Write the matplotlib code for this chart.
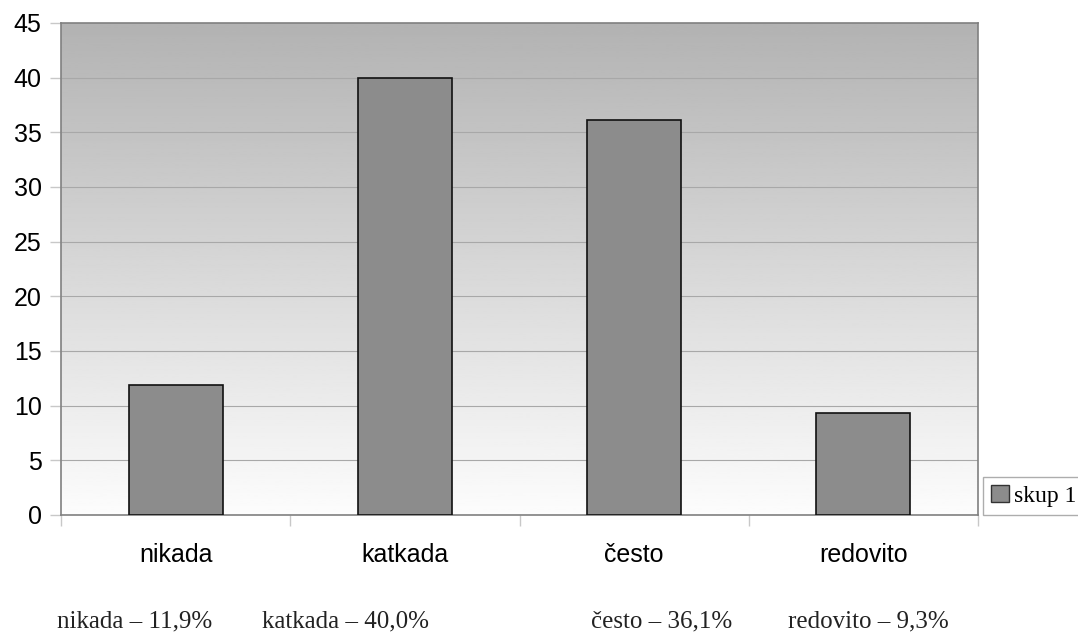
import matplotlib
matplotlib.use("Agg")
import matplotlib.pyplot as plt
import numpy as np
from matplotlib.patches import Patch

categories = ["nikada", "katkada", "često", "redovito"]
values = [11.9, 40.0, 36.1, 9.3]
notes = ["nikada – 11,9%", "katkada – 40,0%", "često – 36,1%", "redovito – 9,3%"]
series_name = "skup 1"
yticks = [0, 5, 10, 15, 20, 25, 30, 35, 40, 45]

W, H = 1078, 632
fig = plt.figure(figsize=(W/100, H/100), dpi=100)
ax = fig.add_axes([61/W, 1-515/H, (978-61)/W, (515-23)/H])

# gradient background
grad = np.linspace(0.99, 0.70, 256).reshape(-1, 1)
ax.imshow(grad, extent=[0, 1, 0, 1], transform=ax.transAxes, cmap="gray",
          vmin=0, vmax=1, aspect="auto", zorder=0, origin="lower")

x = np.arange(len(categories))
ax.bar(x, values, width=0.41, color="#8c8c8c", edgecolor="#111111", linewidth=1.2, zorder=3,
       label=series_name)
ax.set_xlim(-0.5, len(categories)-0.5)
ax.set_ylim(0, 45)
ax.set_yticks(yticks)
ax.set_yticklabels([str(t) for t in yticks], fontsize=18, family="Liberation Sans")
for t in yticks[1:-1]:
    ax.axhline(t, color="#a8a8a8", linewidth=0.8, zorder=1)
ax.set_xticks(np.arange(-0.5, len(categories)))
ax.set_xticklabels([])
ax.set_xticks(x, minor=True)
ax.set_xticklabels(categories, minor=True, fontsize=18, family="Liberation Sans")
ax.tick_params(axis="x", which="minor", length=0, pad=20)
ax.tick_params(axis="x", which="major", length=8, color="#c8c8c8", width=1)
ax.tick_params(axis="y", length=8, color="#c8c8c8", width=1, pad=6)
for s in ax.spines.values():
    s.set_color("#808080")
    s.set_linewidth(1.2)

# bottom notes
note_cx = [135, 345, 662, 868]
for nx, t in zip(note_cx, notes):
    fig.text(nx/W, 1-627/H, t, fontsize=18, family="Liberation Serif", color="#222222",
             ha="center", va="baseline")

leg = fig.legend(handles=[Patch(facecolor="#8c8c8c", edgecolor="#333333", label=series_name)],
                 loc="lower left", bbox_to_anchor=(983/W, 1-515/H),
                 prop={"family": "Liberation Serif", "size": 17}, frameon=True, fancybox=False,
                 handlelength=0.75, handleheight=0.75, handletextpad=0.2, borderpad=0.35,
                 borderaxespad=0)
leg.get_frame().set_edgecolor("#999999")
leg.get_frame().set_linewidth(1.0)

fig.savefig("out.png", dpi=100)
